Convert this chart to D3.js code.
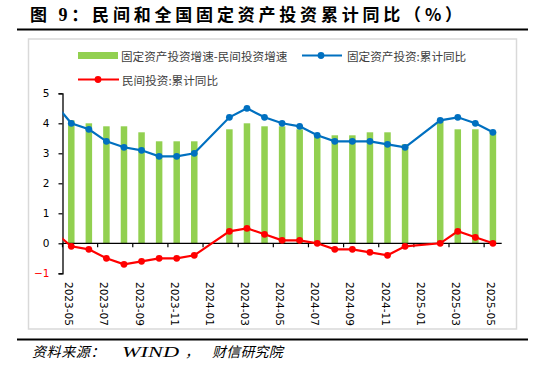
<!DOCTYPE html>
<html><head><meta charset="utf-8">
<script src="https://cdn.jsdelivr.net/npm/d3@7"></script>
<style>
html,body{margin:0;padding:0;background:#fff;}
svg{display:block;}
</style></head>
<body><svg id="c" width="550" height="369"></svg>
<script>
// Months (2023-04 is the prior point whose segment enters the plot from the left edge)
const months = ["2023-04","2023-05","2023-06","2023-07","2023-08","2023-09","2023-10","2023-11","2023-12",
  "2024-01","2024-02","2024-03","2024-04","2024-05","2024-06","2024-07","2024-08","2024-09","2024-10","2024-11","2024-12",
  "2025-01","2025-02","2025-03","2025-04","2025-05"];
// 固定资产投资:累计同比
const faiYoY = [4.7,4.0,3.8,3.4,3.2,3.1,2.9,2.9,3.0,
  null,4.2,4.5,4.2,4.0,3.9,3.6,3.4,3.4,3.4,3.3,3.2,
  null,4.1,4.2,4.0,3.7];
// 民间投资:累计同比
const privYoY = [0.4,-0.1,-0.2,-0.5,-0.7,-0.6,-0.5,-0.5,-0.4,
  null,0.4,0.5,0.3,0.1,0.1,0.0,-0.2,-0.2,-0.3,-0.4,-0.1,
  null,0.0,0.4,0.2,0.0];
// 固定资产投资增速-民间投资增速
const gapBars = [null,4.1,4.0,3.9,3.9,3.7,3.4,3.4,3.4,
  null,3.8,4.0,3.9,3.9,3.8,3.6,3.6,3.6,3.7,3.7,3.3,
  null,4.1,3.8,3.8,3.7];
const yTicks = [-1,0,1,2,3,4,5];
const xLabelMonths = ["2023-05","2023-07","2023-09","2023-11","2024-01","2024-03","2024-05","2024-07","2024-09","2024-11","2025-01","2025-03","2025-05"];

const titleParts = ["图 ","9","：民间和全国固定资产投资累计同比（%）"];
const sourceParts = ["资料来源：","WIND","，","财信研究院"];
const legendNames = ["固定资产投资增速-民间投资增速","固定资产投资:累计同比","民间投资:累计同比"];

const GREEN="#92D050", BLUE="#0070C0", RED="#FF0000";
const svg = d3.select("#c");

// Title + rules
const tt = svg.append("text").attr("x",30).attr("y",21)
  .attr("font-family","'Noto Sans CJK SC',sans-serif")
  .attr("font-weight","bold").attr("font-size",17).attr("letter-spacing","3.8px")
  .attr("fill","#000");
tt.append("tspan").text(titleParts[0]);
tt.append("tspan").attr("font-family","'Liberation Serif',serif").attr("font-size",18).text(titleParts[1]);
tt.append("tspan").text(titleParts[2]);
svg.append("line").attr("x1",17).attr("x2",528).attr("y1",29.5).attr("y2",29.5)
  .attr("stroke","#000").attr("stroke-width",2);
svg.append("line").attr("x1",17).attr("x2",528).attr("y1",339.5).attr("y2",339.5)
  .attr("stroke","#000").attr("stroke-width",2);
// Chart border
svg.append("rect").attr("x",28.5).attr("y",39).attr("width",488).attr("height",290)
  .attr("fill","none").attr("stroke","#d9d9d9").attr("stroke-width",1.5);
// Source
const st = svg.append("text").attr("y",357)
  .attr("font-family","'Liberation Serif','Noto Sans CJK SC',serif")
  .attr("font-style","italic").attr("font-size",14).attr("fill","#000");
st.append("tspan").attr("x",32).attr("letter-spacing","0.6px").text(sourceParts[0]);
st.append("tspan").attr("x",122).attr("font-size",15).attr("textLength",57).attr("lengthAdjust","spacingAndGlyphs").text(sourceParts[1]);
st.append("tspan").attr("x",185).text(sourceParts[2]);
st.append("tspan").attr("x",212).attr("letter-spacing","0.2px").text(sourceParts[3]);

// Scales
const x = d3.scaleLinear().domain([0.5, months.length-0.5]).range([62.5, 501.7]);
const y = d3.scaleLinear().domain([-1,5]).range([273.3, 93.3]);
const barW = 6.5;

const defs = svg.append("defs");
defs.append("clipPath").attr("id","plotclip").append("rect")
  .attr("x",x(0.5)).attr("y",80).attr("width",x(months.length-0.5)-x(0.5)).attr("height",210);

// Bars
svg.append("g").selectAll("rect").data(months.map((m,i)=>({i,v:gapBars[i]})).filter(d=>d.v!=null))
  .enter().append("rect")
  .attr("x",d=>x(d.i)-barW/2).attr("width",barW)
  .attr("y",d=>y(d.v)).attr("height",d=>y(0)-y(d.v))
  .attr("fill",GREEN);

// X axis at y=0
const xAxisG = svg.append("g").attr("transform",`translate(0,${y(0)})`);
xAxisG.append("line").attr("x1",x(0.5)).attr("x2",x(months.length-0.5)).attr("y1",0).attr("y2",0)
  .attr("stroke","#000").attr("stroke-width",1.3);
const tickPos = d3.range(0.5, months.length, 2);
xAxisG.selectAll("line.t").data(tickPos).enter().append("line").attr("class","t")
  .attr("x1",d=>x(d)).attr("x2",d=>x(d)).attr("y1",0).attr("y2",4)
  .attr("stroke","#000").attr("stroke-width",1.2);

// X labels (rotated)
svg.append("g").selectAll("text").data(xLabelMonths).enter().append("text")
  .attr("transform",d=>`translate(${x(months.indexOf(d))-2},282) rotate(90)`)
  .attr("dominant-baseline","central")
  .attr("font-family","'DejaVu Sans',sans-serif").attr("font-size",10.5)
  .attr("fill","#000").text(d=>d);

// Y axis
const yAxis = d3.axisLeft(y).tickValues(yTicks).tickSize(4).tickFormat(d3.format("d"));
const yg = svg.append("g").attr("transform",`translate(${x(0.5)},0)`).call(yAxis);
yg.select(".domain").attr("stroke","#000").attr("stroke-width",1.3);
yg.selectAll(".tick line").attr("stroke","#000").attr("stroke-width",1.2);
yg.selectAll(".tick text").attr("x",-13)
  .attr("font-family","'DejaVu Sans',sans-serif").attr("font-size",10.5)
  .attr("fill",d=>d<0?RED:"#000");

// Lines
function drawSeries(vals,color){
  const pts = months.map((m,i)=>({i,v:vals[i]})).filter(d=>d.v!=null);
  const line = d3.line().x(d=>x(d.i)).y(d=>y(d.v));
  svg.append("path").datum(pts).attr("d",line).attr("fill","none")
    .attr("stroke",color).attr("stroke-width",2.2).attr("clip-path","url(#plotclip)");
  svg.append("g").selectAll("circle").data(pts.filter(d=>d.i>=1)).enter().append("circle")
    .attr("cx",d=>x(d.i)).attr("cy",d=>y(d.v)).attr("r",3.4).attr("fill",color);
}
drawSeries(faiYoY,BLUE);
drawSeries(privYoY,RED);

// Legend
const lg = svg.append("g").attr("font-family","'Noto Sans CJK SC',sans-serif").attr("font-size",11.6).attr("fill","#404040");
lg.append("rect").attr("x",78).attr("y",52).attr("width",40).attr("height",7).attr("fill",GREEN);
lg.append("text").attr("x",121).attr("y",55.5).attr("dominant-baseline","central").text(legendNames[0]);
lg.append("line").attr("x1",302).attr("x2",342).attr("y1",55.5).attr("y2",55.5).attr("stroke",BLUE).attr("stroke-width",2.2);
lg.append("circle").attr("cx",321).attr("cy",55.5).attr("r",3.4).attr("fill",BLUE);
lg.append("text").attr("x",347).attr("y",55.5).attr("dominant-baseline","central").text(legendNames[1]);
lg.append("line").attr("x1",78).attr("x2",119).attr("y1",79.5).attr("y2",79.5).attr("stroke",RED).attr("stroke-width",2.2);
lg.append("circle").attr("cx",98).attr("cy",79.5).attr("r",3.4).attr("fill",RED);
lg.append("text").attr("x",122).attr("y",79.5).attr("dominant-baseline","central").text(legendNames[2]);
</script></body></html>
